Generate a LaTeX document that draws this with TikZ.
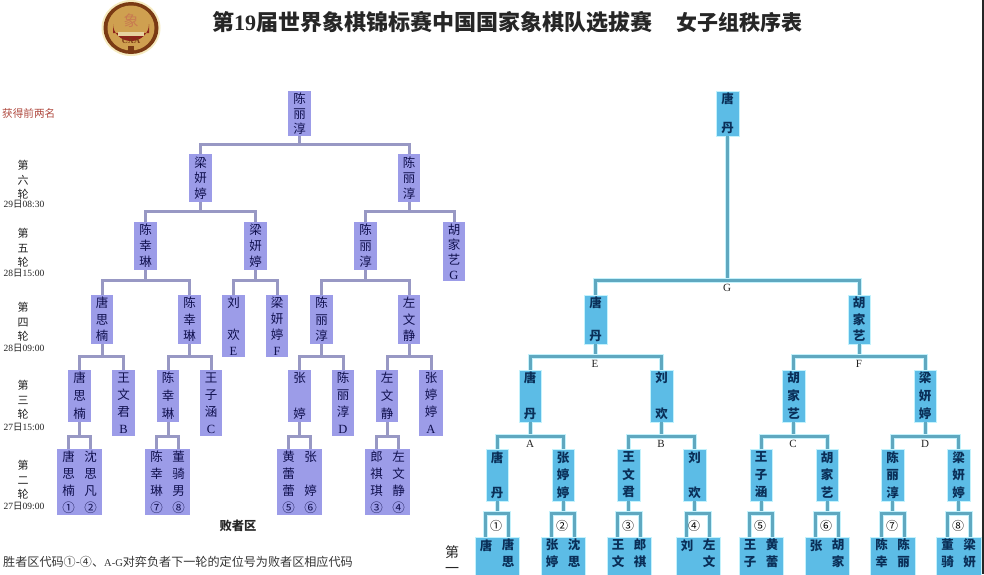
\documentclass[tikz,border=0pt]{standalone}
\usepackage{fontspec}
\setmainfont{Liberation Serif}
\newfontfamily\cjk{Noto Sans CJK SC}
\newfontfamily\lat{Liberation Serif}
\definecolor{lfill}{HTML}{9C9CE8}
\definecolor{lline}{HTML}{9898C4}
\definecolor{ltext}{HTML}{10104E}
\definecolor{rfill}{HTML}{5CBCE6}
\definecolor{rline}{HTML}{5FA8C0}
\definecolor{rglow}{HTML}{C4F2FC}
\definecolor{rtext}{HTML}{0A2F58}
\definecolor{lbl}{HTML}{222222}
\definecolor{logobrown}{HTML}{7A3A14}
\definecolor{logogold}{HTML}{CFA050}
\definecolor{logohalo}{HTML}{F6EBC0}
\definecolor{logored}{HTML}{8E241C}
\definecolor{logowall}{HTML}{E6D2A0}
\definecolor{logoglyph}{HTML}{C87A50}
\definecolor{firstred}{HTML}{B04A40}
\tikzset{
  base box/.style={inner sep=0pt,outer sep=0pt,align=center,anchor=center},
  lbox/.style={base box,fill=lfill,text=ltext},
  rbox/.style={base box,fill=rfill,draw=rglow,line width=.8pt,text=rtext},
  lconn/.style={draw=lline,line width=3pt,line join=miter},
  rconn/.style={draw=rline,line width=3pt,line join=miter,preaction={draw=rglow,line width=5pt}},
  round lab/.style={align=center,inner sep=0pt,text=lbl,font=\cjk\fontsize{11}{14.5}\selectfont},
  date lab/.style={inner sep=0pt,text=lbl,font=\lat\fontsize{9.5}{11}\selectfont},
  letter lab/.style={inner sep=0pt,text=lbl,font=\lat\fontsize{11}{12}\selectfont},
  col text/.style={inner sep=0pt,align=center},
  ring lab/.style={inner sep=0pt,text=black,font=\cjk\fontsize{12}{12}\selectfont},
}
\newcommand\NB[8]{\node[#1,minimum width={#4pt-#3pt},minimum height={#6pt-#5pt},font=\cjk\fontsize{12.5}{#7}\selectfont] (#2) at ({(#3+#4)/2},{(#5+#6)/2}) {#8};}
\newcommand\DB[9]{\NB{#1}{#2}{#3}{#4}{#5}{#6}{#7}{}
  \coordinate (#2L) at ([xshift=-11pt]#2.north);
  \coordinate (#2R) at ([xshift=11pt]#2.north);
  \node[col text,text=ltext,font=\cjk\fontsize{12.5}{#7}\selectfont] (#2a) at ([xshift=-11pt]#2.center) {#8};
  \node[col text,text=ltext,font=\cjk\fontsize{12.5}{#7}\selectfont] (#2b) at ([xshift=11pt]#2.center) {#9};}
\newcommand\BB[5]{\NB{rbox}{#1}{#2}{#3}{537}{575}{17}{}
  \coordinate (#1L) at ([xshift=-11.5pt]#1.north);
  \coordinate (#1R) at ([xshift=11.5pt]#1.north);
  \node[col text,text=rtext,font=\cjk\bfseries\fontsize{12.5}{17}\selectfont] (#1a) at ({(#2+#3)/2-11},553.5) {#4};
  \node[col text,text=rtext,font=\cjk\bfseries\fontsize{12.5}{17}\selectfont] (#1b) at ({(#2+#3)/2+11},553.5) {#5};}
\newcommand\FK[5]{\draw[#1] (#2.south) -- (#2.south |- 0,#3);
  \draw[#1] (#4) -- (#4 |- 0,#3) -- (#5 |- 0,#3) -- (#5);}
\newcommand\RL[6]{\node[round lab] (#1) at (23,#2) {第\\#3\\轮};
  \node[date lab] (#1d) at (24,#4) {#5\cjk 日\lat #6};}
\newcommand\kg{\mbox{}}
\newcommand\bs[1]{{\bfseries #1}}
\begin{document}
\begin{tikzpicture}[x=1pt,y=-1pt]
\useasboundingbox (0,0) rectangle (984,574);
\fill[white] (0,0) rectangle (984,574);
\fill[black!85] (982.3,0) rectangle (984,574);

% logo
\fill[logohalo] (131,28) ellipse (29.5 and 28);
\fill[logobrown] (131,28) ellipse (27.5 and 26);
\fill[logogold] (131,28) ellipse (23.5 and 22.5);
\fill[logored] (113,33) -- (113,24) arc[start angle=180,end angle=0,x radius=18,y radius=17] -- (149,33) -- cycle;
\fill[logowall] (118,32) rectangle (144,36);
\node[inner sep=0pt,text=logoglyph,font=\cjk\fontsize{15}{16}\selectfont] (logoch) at (131,21) {象};
\node[inner sep=0pt,text=logobrown,font=\lat\bfseries\fontsize{8.5}{9}\selectfont] (logotext) at (131,40.5) {CXA};
\fill[logobrown] (128,46) rectangle (134,50.5);

% title
\node[inner sep=0pt,anchor=west,text=black!85,font=\cjk\bfseries\fontsize{22}{24}\selectfont] (title) at (212,22) {第\lat\bfseries 19\cjk\bfseries 届世界象棋锦标赛中国国家象棋队选拔赛};
\node[inner sep=0pt,anchor=east,text=black!85,font=\cjk\bfseries\fontsize{21}{24}\selectfont] (title2) at (803,22) {女子组秩序表};

% side labels
\node[inner sep=0pt,anchor=west,text=firstred,font=\cjk\fontsize{10.6}{12}\selectfont] (first) at (2,113) {获得前两名};
\RL{r6}{180}{六}{204.5}{29}{08:30}
\RL{r5}{248}{五}{273.5}{28}{15:00}
\RL{r4}{322}{四}{348.5}{28}{09:00}
\RL{r3}{400}{三}{427}{27}{15:00}
\RL{r2}{480}{二}{506}{27}{09:00}
\node[inner sep=0pt,font=\cjk\bfseries\fontsize{12.3}{14}\selectfont,text=black!85] (loser) at (238,526) {败者区};
\node[inner sep=0pt,anchor=west,text=black!80,font=\cjk\fontsize{12.1}{14}\selectfont] (note) at (3,562) {胜者区代码①-④、\lat\fontsize{10.5}{14}\selectfont A-G\cjk\fontsize{12.1}{14}\selectfont 对弈负者下一轮的定位号为败者区相应代码};
\node[inner sep=0pt,align=center,text=black!85,font=\cjk\fontsize{14}{16}\selectfont] (first2) at (452,559.5) {第\\一};

% loser bracket
\NB{lbox}{a}{288}{311}{91}{136}{15}{陈\\丽\\淳}
\NB{lbox}{b1}{189}{212}{154}{202}{15.5}{梁\\妍\\婷}
\NB{lbox}{b2}{398}{420}{154}{202}{15.5}{陈\\丽\\淳}
\NB{lbox}{c1}{134}{157}{222}{270}{16}{陈\\幸\\琳}
\NB{lbox}{c2}{244}{267}{222}{270}{16}{梁\\妍\\婷}
\NB{lbox}{c3}{354}{377}{222}{270}{16}{陈\\丽\\淳}
\NB{lbox}{c4}{443}{465}{222}{281}{15}{胡\\家\\艺\\{\lat G}}
\NB{lbox}{d1}{91}{113}{295}{344}{16.5}{唐\\思\\楠}
\NB{lbox}{d2}{178}{201}{295}{344}{16.5}{陈\\幸\\琳}
\NB{lbox}{d3}{222}{245}{295}{357}{16}{刘\\\kg\\欢\\{\lat E}}
\NB{lbox}{d4}{266}{288}{295}{357}{16}{梁\\妍\\婷\\{\lat F}}
\NB{lbox}{d5}{310}{333}{295}{344}{16.5}{陈\\丽\\淳}
\NB{lbox}{d6}{398}{420}{295}{344}{16.5}{左\\文\\静}
\NB{lbox}{e1}{68}{91}{370}{422}{18}{唐\\思\\楠}
\NB{lbox}{e2}{112}{135}{370}{436}{17}{王\\文\\君\\{\lat B}}
\NB{lbox}{e3}{157}{179}{370}{422}{18}{陈\\幸\\琳}
\NB{lbox}{e4}{200}{222}{370}{436}{17}{王\\子\\涵\\{\lat C}}
\NB{lbox}{e5}{288}{311}{370}{422}{18}{张\\\kg\\婷}
\NB{lbox}{e6}{332}{354}{370}{436}{17}{陈\\丽\\淳\\{\lat D}}
\NB{lbox}{e7}{376}{398}{370}{422}{18}{左\\文\\静}
\NB{lbox}{e8}{419}{443}{370}{436}{17}{张\\婷\\婷\\{\lat A}}
\DB{lbox}{f1}{57}{102}{449}{515}{17}{唐\\思\\楠\\①}{沈\\思\\凡\\②}
\DB{lbox}{f2}{145}{190}{449}{515}{17}{陈\\幸\\琳\\⑦}{董\\骑\\男\\⑧}
\DB{lbox}{f3}{277}{322}{449}{515}{17}{黄\\蕾\\蕾\\⑤}{张\\\kg\\婷\\⑥}
\DB{lbox}{f4}{365}{410}{449}{515}{17}{郎\\祺\\琪\\③}{左\\文\\静\\④}

\FK{lconn}{a}{144}{b1.north}{b2.north}
\FK{lconn}{b1}{211}{c1.north}{c2.north}
\FK{lconn}{b2}{211}{c3.north}{c4.north}
\FK{lconn}{c1}{280}{d1.north}{d2.north}
\FK{lconn}{c2}{280}{d3.north}{d4.north}
\FK{lconn}{c3}{280}{d5.north}{d6.north}
\FK{lconn}{d1}{356}{e1.north}{e2.north}
\FK{lconn}{d2}{356}{e3.north}{e4.north}
\FK{lconn}{d5}{356}{e5.north}{e6.north}
\FK{lconn}{d6}{356}{e7.north}{e8.north}
\FK{lconn}{e1}{436}{f1L}{f1R}
\FK{lconn}{e3}{436}{f2L}{f2R}
\FK{lconn}{e5}{436}{f3L}{f3R}
\FK{lconn}{e7}{436}{f4L}{f4R}

% winner bracket
\NB{rbox}{ra}{716}{739}{91}{136}{14.5}{\bs{唐}\\\kg\\\bs{丹}}
\NB{rbox}{rb1}{584}{607}{295}{344}{16.5}{\bs{唐}\\\kg\\\bs{丹}}
\NB{rbox}{rb2}{848}{870}{295}{344}{16.5}{\bs{胡}\\\bs{家}\\\bs{艺}}
\NB{rbox}{rc1}{519}{541}{370}{422}{18}{\bs{唐}\\\kg\\\bs{丹}}
\NB{rbox}{rc2}{650}{673}{370}{422}{18}{\bs{刘}\\\kg\\\bs{欢}}
\NB{rbox}{rc3}{782}{805}{370}{422}{18}{\bs{胡}\\\bs{家}\\\bs{艺}}
\NB{rbox}{rc4}{914}{936}{370}{422}{18}{\bs{梁}\\\bs{妍}\\\bs{婷}}
\NB{rbox}{rd1}{486}{508}{449}{501}{17.5}{\bs{唐}\\\kg\\\bs{丹}}
\NB{rbox}{rd2}{552}{574}{449}{501}{17.5}{\bs{张}\\\bs{婷}\\\bs{婷}}
\NB{rbox}{rd3}{617}{640}{449}{501}{17.5}{\bs{王}\\\bs{文}\\\bs{君}}
\NB{rbox}{rd4}{683}{706}{449}{501}{17.5}{\bs{刘}\\\kg\\\bs{欢}}
\NB{rbox}{rd5}{750}{772}{449}{501}{17.5}{\bs{王}\\\bs{子}\\\bs{涵}}
\NB{rbox}{rd6}{816}{838}{449}{501}{17.5}{\bs{胡}\\\bs{家}\\\bs{艺}}
\NB{rbox}{rd7}{881}{904}{449}{501}{17.5}{\bs{陈}\\\bs{丽}\\\bs{淳}}
\NB{rbox}{rd8}{947}{970}{449}{501}{17.5}{\bs{梁}\\\bs{妍}\\\bs{婷}}
\BB{re1}{475}{519}{唐\\\kg}{唐\\思}
\BB{re2}{541}{585}{张\\婷}{沈\\思}
\BB{re3}{607}{651}{王\\文}{郎\\祺}
\BB{re4}{676}{720}{刘\\\kg}{左\\文}
\BB{re5}{739}{783}{王\\子}{黄\\蕾}
\BB{re6}{805}{849}{张\\\kg}{胡\\家}
\BB{re7}{870}{915}{陈\\幸}{陈\\丽}
\BB{re8}{936}{981}{董\\骑}{梁\\妍}

\FK{rconn}{ra}{280}{rb1.north}{rb2.north}
\FK{rconn}{rb1}{356}{rc1.north}{rc2.north}
\FK{rconn}{rb2}{356}{rc3.north}{rc4.north}
\FK{rconn}{rc1}{436}{rd1.north}{rd2.north}
\FK{rconn}{rc2}{436}{rd3.north}{rd4.north}
\FK{rconn}{rc3}{436}{rd5.north}{rd6.north}
\FK{rconn}{rc4}{436}{rd7.north}{rd8.north}
\FK{rconn}{rd1}{513}{re1L}{re1R}
\FK{rconn}{rd2}{513}{re2L}{re2R}
\FK{rconn}{rd3}{513}{re3L}{re3R}
\FK{rconn}{rd4}{513}{re4L}{re4R}
\FK{rconn}{rd5}{513}{re5L}{re5R}
\FK{rconn}{rd6}{513}{re6L}{re6R}
\FK{rconn}{rd7}{513}{re7L}{re7R}
\FK{rconn}{rd8}{513}{re8L}{re8R}

\node[letter lab] (lG) at (727,288) {G};
\node[letter lab] (lE) at (595,364) {E};
\node[letter lab] (lF) at (859,364) {F};
\node[letter lab] (lA) at (530,444) {A};
\node[letter lab] (lB) at (661,444) {B};
\node[letter lab] (lC) at (793,444) {C};
\node[letter lab] (lD) at (925,444) {D};
\node[ring lab] (n1) at (496,526) {①};
\node[ring lab] (n2) at (562,526) {②};
\node[ring lab] (n3) at (628,526) {③};
\node[ring lab] (n4) at (694,526) {④};
\node[ring lab] (n5) at (760,526) {⑤};
\node[ring lab] (n6) at (826,526) {⑥};
\node[ring lab] (n7) at (892,526) {⑦};
\node[ring lab] (n8) at (958,526) {⑧};
\end{tikzpicture}
\end{document}
